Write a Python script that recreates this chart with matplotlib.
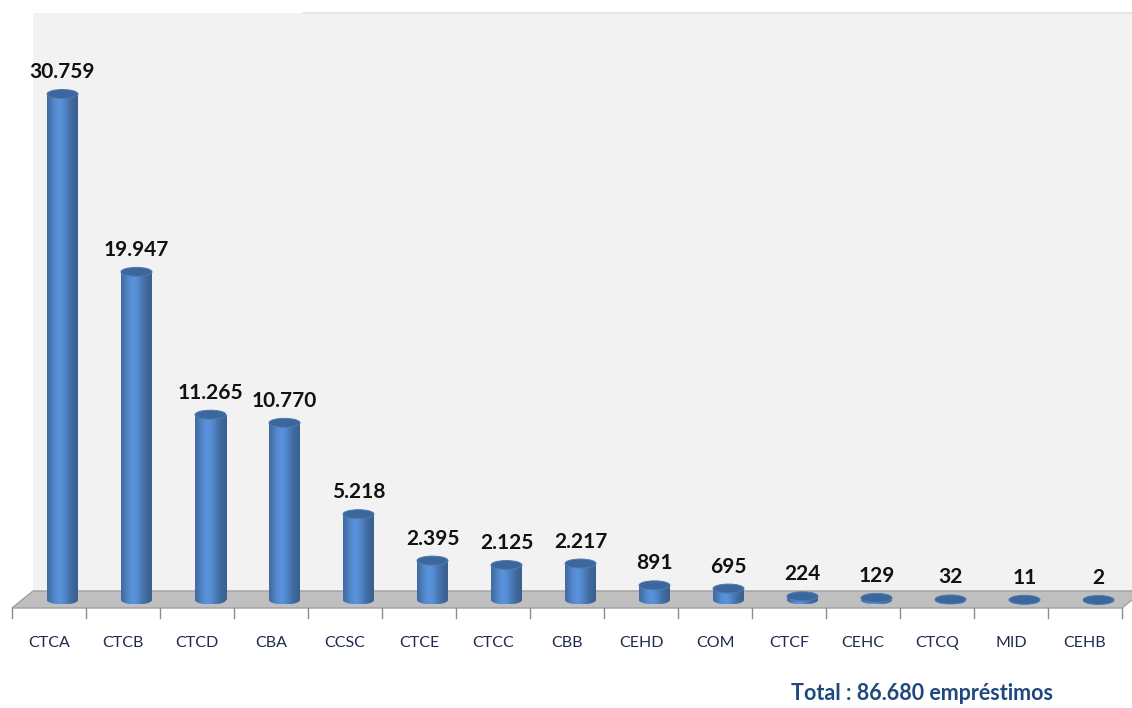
import numpy as np
import matplotlib
matplotlib.use('Agg')
import matplotlib.pyplot as plt
from matplotlib.patches import Ellipse, Polygon, Rectangle

categories = ['CTCA', 'CTCB', 'CTCD', 'CBA', 'CCSC', 'CTCE', 'CTCC', 'CBB',
              'CEHD', 'COM', 'CTCF', 'CEHC', 'CTCQ', 'MID', 'CEHB']
values = [30759, 19947, 11265, 10770, 5218, 2395, 2125, 2217,
          891, 695, 224, 129, 32, 11, 2]
value_labels = ['30.759', '19.947', '11.265', '10.770', '5.218', '2.395',
                '2.125', '2.217', '891', '695', '224', '129', '32', '11', '2']
total_text = 'Total : 86.680 empréstimos'

plt.rcParams['font.family'] = ['Lato', 'DejaVu Sans']

W, H = 1132, 708
fig = plt.figure(figsize=(W / 100, H / 100), dpi=100)
ax = fig.add_axes([0, 0, 1, 1])
ax.set_axis_off()

# pixel <-> data helpers (one category = 74 px, 0.01645 px per unit)
px_cat = 74.0
x0_px = 49.0
u_per_px = 1 / 0.01645
base_px = 600.0  # zero line, from top

ax.set_xlim(-x0_px / px_cat, (W - x0_px) / px_cat)
ax.set_ylim(-(H - base_px) * u_per_px, base_px * u_per_px)

n = len(categories)
depth = 13.5 / px_cat          # bars sit a bit back on the floor
bw = 31 / px_cat
eh = 9 * u_per_px               # ellipse height
floor_front = -8 * u_per_px
floor_back = 9 * u_per_px
floor_dx = 21 / px_cat

# wall and floor
wall = Rectangle((-0.5 + floor_dx, floor_back), n + 1,
                 (base_px - 13) * u_per_px - floor_back,
                 facecolor='#f2f2f2', edgecolor='none', zorder=0)
ax.add_patch(wall)
ax.plot([(303 - x0_px) / px_cat, n], [(base_px - 13) * u_per_px] * 2,
        color='#e2e2e2', lw=1.2, zorder=0.5)
floor = Polygon([(-0.5, floor_front), (n - 0.5, floor_front),
                 (n - 0.5 + floor_dx, floor_back),
                 (-0.5 + floor_dx, floor_back)],
                closed=True, facecolor='#bfbfbf', edgecolor='#a0a0a0',
                lw=1, zorder=1)
ax.add_patch(floor)

# tick marks on category boundaries
for k in range(n + 1):
    ax.plot([k - 0.5, k - 0.5], [floor_front, floor_front - 10 * u_per_px],
            color='#8c8c8c', lw=1, zorder=1)

# cylinders
grad = np.linspace(0, 1, 64)
shade = 0.66 + 0.36 * np.exp(-((grad - 0.4) / 0.34) ** 2)
base_rgb = np.array([0.34, 0.56, 0.84])
img = np.clip(shade[:, None] * base_rgb[None, :], 0, 1)[None, :, :]

xs = np.arange(n) + depth
bars = ax.bar(xs, values, width=bw, color='none', edgecolor='none', zorder=2)
for bar, x, v in zip(bars, xs, values):
    left = x - bw / 2
    bottom_e = Ellipse((x, 0), bw, eh, facecolor='none', edgecolor='none')
    ax.add_patch(bottom_e)
    im1 = ax.imshow(img, extent=[left, left + bw, -eh / 2, eh / 2],
                    aspect='auto', zorder=2, interpolation='bilinear')
    im1.set_clip_path(bottom_e)
    im2 = ax.imshow(img, extent=[left, left + bw, 0, v],
                    aspect='auto', zorder=2.1, interpolation='bilinear')
    im2.set_clip_path(bar)
    ax.add_patch(Ellipse((x, v), bw, eh, facecolor='#3c679c',
                         edgecolor='#4f7bb2', lw=0.7, zorder=2.2))

for x, v, lab in zip(xs, values, value_labels):
    ax.text(x, v + 22 * u_per_px, lab, ha='center', va='center',
            fontsize=15, fontweight='bold', color='#111111', zorder=3)

for i, c in enumerate(categories):
    ax.text(i, -(643 - base_px) * u_per_px, c, ha='center', va='center',
            fontsize=11.5, color='#1f2a4d', zorder=3)

ax.text((922 - x0_px) / px_cat, -(693 - base_px) * u_per_px, total_text,
        ha='center', va='center', fontsize=15.5, fontweight='bold',
        color='#1f497d', zorder=3)

fig.savefig('out.png', dpi=100, facecolor='white')
